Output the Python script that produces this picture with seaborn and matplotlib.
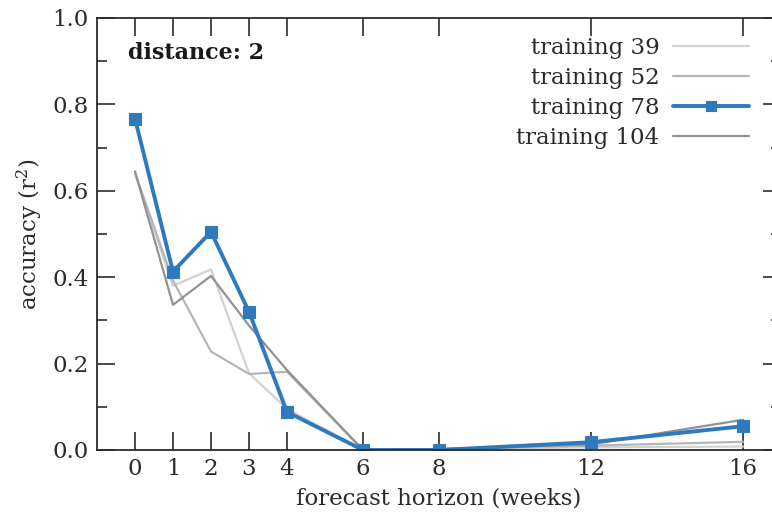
import matplotlib
matplotlib.use("Agg")
import matplotlib.pyplot as plt
import seaborn as sns
from matplotlib.ticker import MultipleLocator

# Forecast horizons (weeks) and r^2 accuracy for each training window length
horizon = [0, 1, 2, 3, 4, 6, 8, 12, 16]
train_39 = [0.640, 0.380, 0.418, 0.178, 0.095, 0.000, 0.002, 0.006, 0.008]
train_52 = [0.642, 0.392, 0.228, 0.176, 0.181, 0.000, 0.002, 0.010, 0.019]
train_78 = [0.767, 0.413, 0.505, 0.320, 0.088, 0.000, 0.000, 0.018, 0.055]
train_104 = [0.645, 0.336, 0.403, 0.288, 0.185, 0.000, 0.002, 0.013, 0.070]

labels = ["training 39", "training 52", "training 78", "training 104"]
xtick_labels = ["0", "1", "2", "3", "4", "6", "8", "12", "16"]

sns.set_theme(style="ticks")
plt.rcParams["font.family"] = ["DejaVu Serif"]
plt.rcParams["mathtext.fontset"] = "dejavuserif"

FS = 16.5
ink = "#2b2b2b"

fig = plt.figure(figsize=(7.72, 5.19), dpi=100)
ax = fig.add_axes([97 / 772, 69 / 519, 684 / 772, 432 / 519])

grey_specs = [
    (train_39, labels[0], "#d2d2d2"),
    (train_52, labels[1], "#b6b6b6"),
    (train_104, labels[3], "#929292"),
]
for vals, lab, col in grey_specs:
    sns.lineplot(x=horizon, y=vals, ax=ax, color=col, lw=1.6, label=lab)

sns.lineplot(x=horizon, y=train_78, ax=ax, color="#2f79bd", lw=2.8,
             marker="s", markersize=9, markeredgecolor="#2f79bd",
             markeredgewidth=0.8, label=labels[2])

ax.set_xlim(-1, 17)
ax.set_ylim(0, 1.0)
ax.set_xticks(horizon)
ax.set_xticklabels(xtick_labels)
ax.yaxis.set_major_locator(MultipleLocator(0.2))
ax.yaxis.set_minor_locator(MultipleLocator(0.1))
ax.set_yticklabels([f"{v:.1f}" for v in ax.get_yticks()])

ax.tick_params(which="both", direction="in", top=True, right=True,
               color=ink, width=1.2, labelsize=FS, labelcolor=ink)
ax.tick_params(which="major", length=13)
ax.tick_params(which="minor", length=7)
ax.tick_params(axis="x", pad=6)
ax.tick_params(axis="y", pad=6)
for sp in ax.spines.values():
    sp.set_color(ink)
    sp.set_linewidth(1.3)

ax.set_xlabel("forecast horizon (weeks)", fontsize=FS, color=ink, labelpad=5)
ax.set_ylabel("accuracy (r$^2$)", fontsize=FS, color=ink, labelpad=5)

ax.text(0.0455, 0.92, "distance: 2", transform=ax.transAxes,
        fontsize=16, fontweight="bold", va="center", ha="left", color="#1a1a1a")

handles, labs = ax.get_legend_handles_labels()
order = [labs.index(l) for l in labels]
ax.legend([handles[i] for i in order], [labs[i] for i in order],
          loc="upper right", bbox_to_anchor=(0.953, 0.957), frameon=False,
          markerfirst=False, fontsize=FS, handlelength=3.3,
          handletextpad=0.6, labelspacing=0.36, borderaxespad=0,
          borderpad=0, labelcolor=ink, markerscale=0.75)

fig.savefig("out.png", dpi=100)
